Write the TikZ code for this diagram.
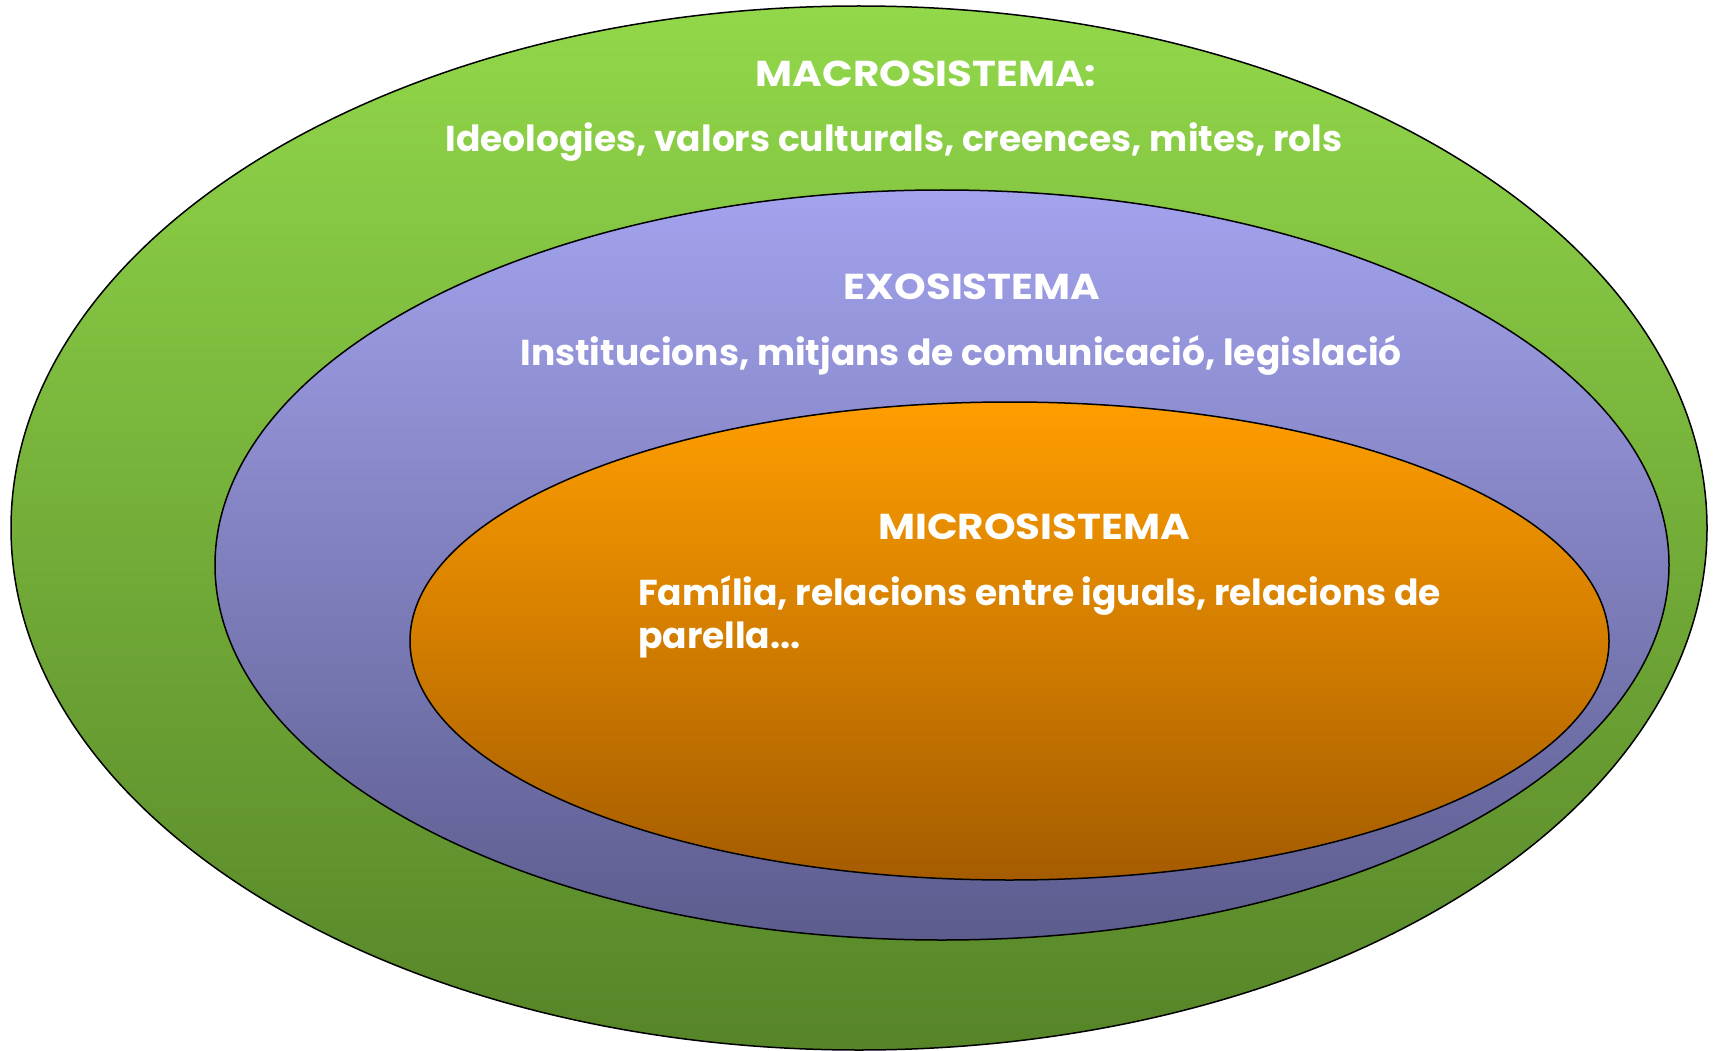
\documentclass[tikz,border=0pt]{standalone}
\usepackage{fontspec}
\setmainfont{Poppins}
\newcommand{\wideT}[1]{\scalebox{1.12}[1]{#1}}
\begin{document}
\begin{tikzpicture}[x=1pt,y=-1pt,
  ring/.style={draw=black, line width=1.5pt},
  lbl/.style={text=white, font=\fontsize{36}{44}\selectfont\bfseries, inner sep=0pt, anchor=center},
  ttl/.style={text=white, font=\fontsize{36}{44}\selectfont\bfseries, inner sep=0pt, anchor=center}]
\useasboundingbox (0,0) rectangle (1714,1051);
\path[ring, top color={rgb,255:red,146;green,216;blue,74}, bottom color={rgb,255:red,86;green,132;blue,40}]
  (859,528) ellipse [x radius=848pt, y radius=522pt];
\path[ring, top color={rgb,255:red,163;green,163;blue,238}, bottom color={rgb,255:red,92;green,92;blue,142}]
  (942,565) ellipse [x radius=727pt, y radius=375pt];
\path[ring, top color={rgb,255:red,255;green,158;blue,0}, bottom color={rgb,255:red,165;green,92;blue,0}]
  (1009.5,641) ellipse [x radius=599.5pt, y radius=239pt];
\node[ttl] (macro) at (926,74) {\wideT{MACROSISTEMA:}};
\node[lbl] (macrot) at (894,142) {Ideologies, valors culturals, creences, mites, rols};
\node[ttl] (exo) at (972,287) {\wideT{EXOSISTEMA}};
\node[lbl] (exot) at (961,355) {Institucions, mitjans de comunicació, legislació};
\node[ttl] (micro) at (1034,527) {\wideT{MICROSISTEMA}};
\node[lbl, anchor=west] (microt) at (638,596) {Família, relacions entre iguals, relacions de};
\node[lbl, anchor=west] (microt2) at (638,640) {parella...};
\end{tikzpicture}
\end{document}
